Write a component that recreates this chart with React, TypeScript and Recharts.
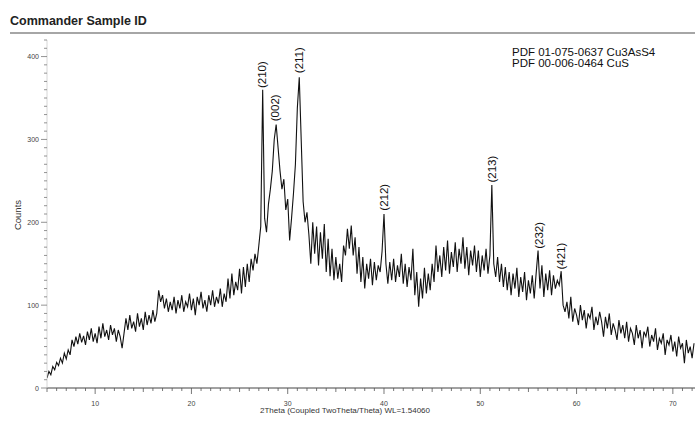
import { LineChart, Line, XAxis, YAxis, ReferenceDot } from 'recharts';

// scan grid: 5.0° .. 72.2° 2θ, 0.2° steps
const START_ANGLE = 5;
const STEP = 0.2;

// counts, split by angular range
const lowAngle = [
  12, 20, 16, 26, 22, 31, 27, 36, 30, 42, 35, 46, 40, 58, 50, 62, 53, 66, 55, 63,
  52, 68, 58, 72, 56, 66, 54, 74, 60, 78, 62, 70, 58, 76, 64, 72, 56, 70, 62, 48,
  66, 84, 70, 88, 72, 80, 68, 90, 74, 84, 70, 92, 76, 88, 78, 94, 80, 90,
];
const amorphousHump = [
  118, 104, 112, 96, 108, 92, 104, 94, 110, 90, 106, 96, 112, 92, 104, 98, 114, 94, 108, 88,
  110, 100, 116, 96, 106, 92, 112, 100, 118, 98, 110, 102, 120, 98, 114, 104, 132, 108, 138, 112,
  128, 118, 144, 114, 146, 122, 150, 128, 156, 142, 162, 150, 172,
];
const mainPeaks = [
  195, 360, 205, 188, 222, 240, 262, 300, 318, 290, 262, 240, 252, 215, 228, 178, 205, 235, 270, 338,
  375, 300, 225, 200, 212,
];
const midAngle = [
  185, 150, 200, 162, 195, 148, 188, 156, 198, 140, 180, 135, 168, 130, 158, 132, 150, 128, 172, 160,
  192, 168, 196, 160, 182, 138, 170, 128, 158, 120, 150, 132, 156, 124, 152, 130, 148, 140, 165, 210,
  150, 126, 152, 130, 156, 128, 148, 134, 162, 126, 150, 122, 146, 130, 168, 112, 140, 98, 132, 108,
  145, 114, 138, 118, 150, 128, 172, 140, 160, 134, 170, 142, 178, 138, 164, 146, 176, 140, 168, 150,
  182, 144, 170, 136, 166, 148, 172, 140, 166, 134, 160, 142, 168, 138, 160,
];
const highAngle = [
  245, 150, 134, 158, 128, 150, 122, 146, 118, 140, 112, 138, 120, 145, 110, 134, 116, 140, 106, 130,
  114, 136, 108, 138, 166, 120, 148, 110, 138, 118, 142, 112, 136, 120, 130, 124, 141,
  100, 92, 104, 84, 110, 80, 96, 88, 76, 100, 82, 94, 72, 90, 84, 98, 70, 86, 76, 92,
  80, 62, 86, 72, 90, 64, 78, 70, 58, 82, 66, 76, 60, 80, 56, 72, 66, 52, 76, 60,
  70, 48, 68, 62, 74, 50, 64, 56, 72, 46, 60, 54, 66, 40, 58, 52, 64, 44, 56, 38,
  62, 48, 54, 30, 58, 42, 50, 36, 54,
];

// reflection labels: hkl, position (°2θ), foot of the label (counts)
const peakHkl = ['(210)', '(002)', '(211)', '(212)', '(213)', '(232)', '(421)'];
const peakAngle = [27.35, 28.65, 31.15, 39.95, 51.2, 56.1, 58.4];
const peakLabelBase = [362, 322, 380, 214, 248, 168, 143];

const yMajor = [0, 100, 200, 300, 400];
const xMajor = [10, 20, 30, 40, 50, 60, 70];

const PDF_REFS = ['PDF 01-075-0637 Cu3AsS4', 'PDF 00-006-0464 CuS'];

const counts = [...lowAngle, ...amorphousHump, ...mainPeaks, ...midAngle, ...highAngle];
const data = counts.map((c, i) => ({
  angle: Math.round((START_ANGLE + i * STEP) * 10) / 10,
  counts: c,
}));

const yTicks = Array.from({ length: 43 }, (_, i) => i * 10);
const xTicks = Array.from({ length: 68 }, (_, i) => 5 + i);

const FONT = '"Liberation Sans", Arial, Helvetica, sans-serif';
const AXIS_X = 47;
const AXIS_Y = 388;

function YTick(props: any) {
  const { y, payload } = props;
  const v = payload.value as number;
  const major = yMajor.includes(v);
  return (
    <g>
      <line x1={AXIS_X - (major ? 6 : 3)} x2={AXIS_X} y1={y} y2={y} stroke="#777" strokeWidth={0.8} />
      {major && (
        <text x={AXIS_X - 8} y={y} dy={2.5} textAnchor="end" fontSize={7} fill="#444" fontFamily={FONT}>
          {v}
        </text>
      )}
    </g>
  );
}

function XTick(props: any) {
  const { x, payload } = props;
  const v = payload.value as number;
  const major = xMajor.includes(v);
  const len = major ? 6 : v % 5 === 0 ? 4 : 3;
  return (
    <g>
      <line x1={x} x2={x} y1={AXIS_Y} y2={AXIS_Y + len} stroke="#555" strokeWidth={0.8} />
      {major && (
        <text x={x} y={AXIS_Y + 18} textAnchor="middle" fontSize={7} fill="#444" fontFamily={FONT}>
          {v}
        </text>
      )}
    </g>
  );
}

function PeakLabel(text: string) {
  return (props: any) => {
    const { cx, cy } = props;
    return (
      <text
        x={cx}
        y={cy}
        transform={`rotate(-90 ${cx} ${cy})`}
        textAnchor="start"
        dominantBaseline="central"
        fontSize={11.5}
        fill="#111"
        fontFamily={FONT}
      >
        {text}
      </text>
    );
  };
}

export default function App() {
  return (
    <div style={{ position: 'absolute', left: 0, top: 0, width: 695, height: 430, background: '#fff' }}>
      <LineChart width={695} height={430} data={data} margin={{ top: 40, right: 0, bottom: 0, left: 0 }}>
        <XAxis
          dataKey="angle"
          type="number"
          domain={[5, 72.3]}
          ticks={xTicks}
          interval={0}
          height={42}
          tick={<XTick />}
          tickLine={false}
          axisLine={{ stroke: '#444', strokeWidth: 1 }}
          allowDataOverflow
        />
        <YAxis
          type="number"
          domain={[0, 420]}
          ticks={yTicks}
          interval={0}
          width={47}
          tick={<YTick />}
          tickLine={false}
          axisLine={{ stroke: '#ccc', strokeWidth: 0.8 }}
          allowDataOverflow
        />
        <Line
          type="linear"
          dataKey="counts"
          stroke="#111"
          strokeWidth={1.1}
          dot={false}
          isAnimationActive={false}
        />
        {peakHkl.map((hkl, i) => (
          <ReferenceDot
            key={hkl}
            x={peakAngle[i]}
            y={peakLabelBase[i]}
            r={0}
            ifOverflow="visible"
            shape={PeakLabel(hkl)}
          />
        ))}
      </LineChart>
      <svg
        width={695}
        height={430}
        style={{ position: 'absolute', left: 0, top: 0, pointerEvents: 'none' }}
      >
        <text x={10} y={25} fontSize={12.5} fontWeight="bold" fill="#222" fontFamily={FONT}>
          Commander Sample ID
        </text>
        <line x1={10} x2={695} y1={33} y2={33} stroke="#888" strokeWidth={1.5} />
        {PDF_REFS.map((t, i) => (
          <text key={t} x={512} y={56 + i * 11} fontSize={11.5} fill="#111" fontFamily={FONT}>
            {t}
          </text>
        ))}
        <text
          x={21}
          y={215}
          transform="rotate(-90 21 215)"
          textAnchor="middle"
          fontSize={9.5}
          fill="#333"
          fontFamily={FONT}
        >
          Counts
        </text>
        <text x={345} y={413} textAnchor="middle" fontSize={8} fill="#333" fontFamily={FONT}>
          2Theta (Coupled TwoTheta/Theta) WL=1.54060
        </text>
      </svg>
    </div>
  );
}
